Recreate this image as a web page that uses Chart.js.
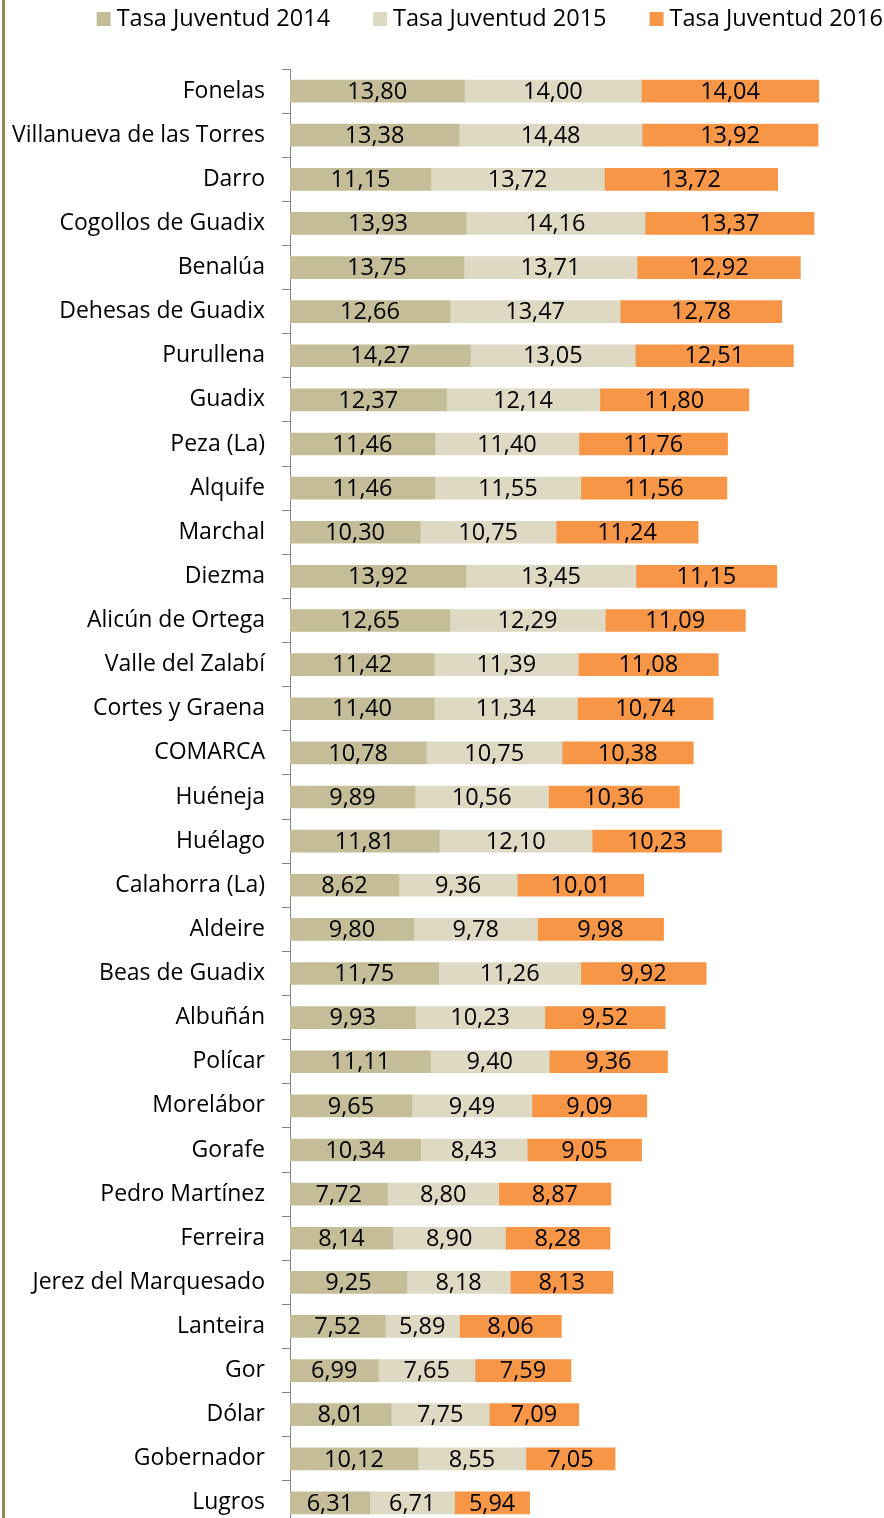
<!DOCTYPE html>
<html>
<head>
<meta charset="utf-8">
<script src="https://cdn.jsdelivr.net/npm/chart.js@4/dist/chart.umd.min.js"></script>
<style>
html,body{margin:0;padding:0;background:#fff;overflow:hidden;width:884px;height:1518px;}
#c{position:absolute;left:0;top:0;}
#edge{position:absolute;left:2px;top:0;width:3px;height:1518px;background:#948B5C;}
</style>
</head>
<body>
<canvas id="c" width="884" height="1525" style="width:884px;height:1525px"></canvas>
<div id="edge"></div>
<script>
const categories = ["Fonelas","Villanueva de las Torres","Darro","Cogollos de Guadix","Benalúa","Dehesas de Guadix","Purullena","Guadix","Peza (La)","Alquife","Marchal","Diezma","Alicún de Ortega","Valle del Zalabí","Cortes y Graena","COMARCA","Huéneja","Huélago","Calahorra (La)","Aldeire","Beas de Guadix","Albuñán","Polícar","Morelábor","Gorafe","Pedro Martínez","Ferreira","Jerez del Marquesado","Lanteira","Gor","Dólar","Gobernador","Lugros"];
const tasa2014 = [13.80,13.38,11.15,13.93,13.75,12.66,14.27,12.37,11.46,11.46,10.30,13.92,12.65,11.42,11.40,10.78,9.89,11.81,8.62,9.80,11.75,9.93,11.11,9.65,10.34,7.72,8.14,9.25,7.52,6.99,8.01,10.12,6.31];
const tasa2015 = [14.00,14.48,13.72,14.16,13.71,13.47,13.05,12.14,11.40,11.55,10.75,13.45,12.29,11.39,11.34,10.75,10.56,12.10,9.36,9.78,11.26,10.23,9.40,9.49,8.43,8.80,8.90,8.18,5.89,7.65,7.75,8.55,6.71];
const tasa2016 = [14.04,13.92,13.72,13.37,12.92,12.78,12.51,11.80,11.76,11.56,11.24,11.15,11.09,11.08,10.74,10.38,10.36,10.23,10.01,9.98,9.92,9.52,9.36,9.09,9.05,8.87,8.28,8.13,8.06,7.59,7.09,7.05,5.94];
const seriesNames = ["Tasa Juventud 2014","Tasa Juventud 2015","Tasa Juventud 2016"];
const seriesColors = ["#C4BD97","#DDD9C3","#F79646"];

const FONT = "'Open Sans', sans-serif";

// Legend drawn at the top, right-aligned like the reference
const topLegend = {
  id: 'topLegend',
  afterDraw(chart) {
    const ctx = chart.ctx;
    ctx.save();
    ctx.font = "23.5px " + FONT;
    ctx.textBaseline = "middle";
    ctx.textAlign = "left";
    const box = 14, gapText = 6, gapItem = 43;
    const items = chart.data.datasets.map(ds => ({label: ds.label, color: ds.backgroundColor, w: ctx.measureText(ds.label).width}));
    let total = items.reduce((s, it) => s + box + gapText + it.w, 0) + gapItem * (items.length - 1);
    let x = 883 - total;
    items.forEach(it => {
      ctx.fillStyle = it.color;
      ctx.fillRect(x, 12, box, box);
      ctx.fillStyle = "#000";
      ctx.fillText(it.label, x + box + gapText, 19);
      x += box + gapText + it.w + gapItem;
    });
    ctx.restore();
  }
};

const valueLabels = {
  id: 'valueLabels',
  afterDatasetsDraw(chart) {
    const ctx = chart.ctx;
    ctx.save();
    ctx.font = "23.5px " + FONT;
    ctx.fillStyle = "#000";
    ctx.textAlign = "center";
    ctx.textBaseline = "middle";
    chart.data.datasets.forEach((ds, i) => {
      const meta = chart.getDatasetMeta(i);
      meta.data.forEach((bar, j) => {
        const p = bar.getProps(['x','y','base'], true);
        const cx = (p.x + p.base) / 2;
        ctx.fillText(ds.data[j].toFixed(2).replace('.', ','), cx, p.y + 1);
      });
    });
    ctx.restore();
  }
};

new Chart(document.getElementById('c'), {
  type: 'bar',
  data: {
    labels: categories,
    datasets: [
      {label: seriesNames[0], data: tasa2014, backgroundColor: seriesColors[0]},
      {label: seriesNames[1], data: tasa2015, backgroundColor: seriesColors[1]},
      {label: seriesNames[2], data: tasa2016, backgroundColor: seriesColors[2]}
    ]
  },
  options: {
    indexAxis: 'y',
    responsive: false,
    animation: false,
    layout: {padding: {top: 69, right: 0, bottom: 0, left: 0}},
    datasets: {bar: {barThickness: 22, borderWidth: 0}},
    scales: {
      x: {stacked: true, display: false, min: 0, max: 47},
      y: {
        stacked: true,
        afterFit(s) { s.width = 290; s.paddingTop = 0; s.paddingBottom = 0; },
        border: {display: true, color: '#868686', width: 1},
        grid: {display: true, offset: true, drawOnChartArea: false, drawTicks: true, tickLength: 8, color: '#868686'},
        ticks: {font: {family: FONT, size: 23}, color: '#000', padding: 17}
      }
    },
    plugins: {
      legend: {display: false},
      tooltip: {enabled: false}
    }
  },
  plugins: [topLegend, valueLabels]
});
</script>
</body>
</html>
